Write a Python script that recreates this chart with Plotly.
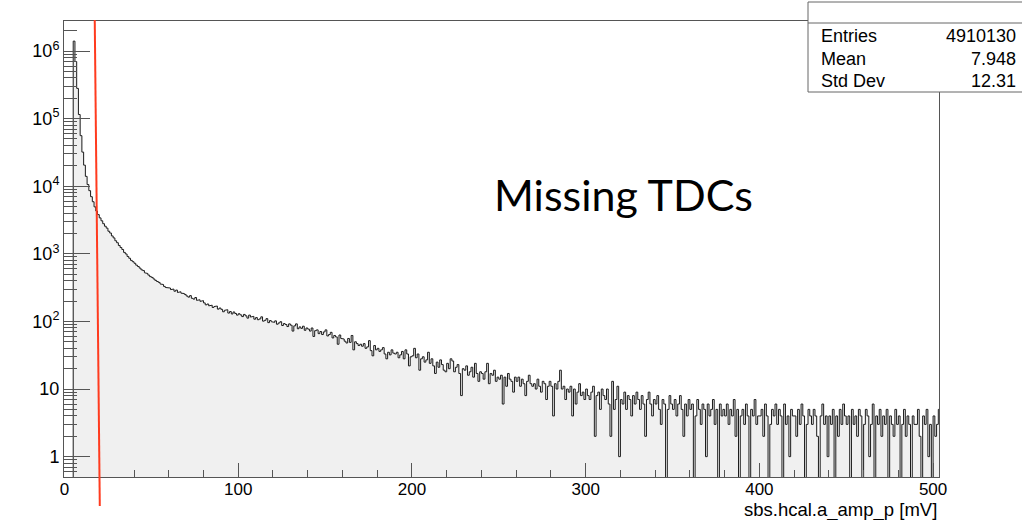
import numpy as np
import plotly.graph_objects as go

# ---------------- data ----------------
bin_width = 1.0
x_start = 0.0
counts = [
    0, 0, 0, 0, 0, 1400000, 700000, 280000, 115000, 56000,
    32000, 20500, 14000, 10600, 8600, 7000, 5900, 4950, 4300, 3800,
    3400, 3080, 2790, 2560, 2400, 2160, 2030, 1840, 1720, 1560,
    1460, 1330, 1240, 1160, 1050, 995, 915, 860, 800, 765,
    725, 680, 650, 615, 580, 565, 525, 512, 485, 460,
    448, 425, 405, 390, 378, 358, 352, 330, 318, 310,
    312, 296, 301, 280, 291, 268, 275, 262, 259, 251,
    238, 229, 241, 220, 214, 226, 205, 209, 198, 203,
    188, 176, 181, 170, 174, 161, 166, 169, 152, 158,
    151, 139, 146, 149, 133, 140, 129, 138, 131, 124,
    130, 125, 118, 127, 121, 112, 124, 116, 119, 108,
    114, 106, 109, 117, 101, 104, 110, 96, 103, 99,
    97, 102, 91, 95, 99, 87, 93, 90, 84, 92,
    88, 72, 86, 92, 78, 83, 79, 85, 74, 80,
    77, 72, 80, 60, 73, 75, 66, 71, 64, 70,
    75, 61, 64, 69, 57, 62, 59, 46, 63, 56,
    55, 51, 48, 56, 49, 62, 38, 50, 47, 44,
    46, 43, 47, 40, 42, 52, 37, 31, 44, 38,
    40, 36, 38, 41, 33, 28, 35, 32, 38, 34,
    33, 35, 29, 32, 36, 28, 38, 33, 22, 30,
    31, 40, 29, 33, 19, 28, 30, 25, 27, 35,
    24, 28, 22, 17, 25, 21, 27, 23, 19, 18,
    24, 20, 28, 26, 18, 21, 23, 17, 8, 20,
    19, 22, 16, 18, 21, 15, 24, 17, 13, 18,
    17, 14, 18, 24, 12, 17, 16, 19, 13, 15,
    14, 16, 6, 15, 11, 17, 14, 13, 9, 15,
    13, 15, 11, 14, 12, 8, 13, 16, 12, 11,
    12, 10, 14, 11, 9, 13, 12, 7, 11, 13,
    11, 4, 12, 10, 13, 19, 10, 11, 7, 10,
    9, 11, 4, 10, 6, 9, 12, 8, 9, 7,
    10, 8, 7, 9, 11, 2, 8, 9, 5, 10,
    8, 7, 10, 6, 2, 13, 5, 7, 11, 1,
    7, 6, 9, 5, 8, 7, 4, 8, 6, 9,
    7, 5, 8, 6, 2, 7, 9, 6, 4, 7,
    6, 8, 5, 3, 7, 6, 0, 5, 8, 6,
    5, 7, 4, 6, 8, 5, 2, 6, 4, 7,
    5, 6, 0, 4, 7, 5, 3, 6, 5, 1,
    6, 4, 5, 7, 3, 5, 0, 6, 4, 5,
    4, 6, 3, 5, 4, 7, 2, 5, 0, 4,
    5, 3, 6, 4, 0, 5, 4, 7, 3, 4,
    4, 5, 2, 6, 4, 0, 3, 5, 4, 6,
    3, 5, 4, 0, 6, 3, 4, 1, 5, 4,
    4, 2, 5, 3, 6, 4, 0, 3, 5, 4,
    3, 5, 4, 2, 0, 4, 6, 3, 4, 1,
    4, 3, 5, 0, 4, 2, 5, 3, 6, 4,
    3, 4, 0, 5, 3, 4, 2, 5, 4, 0,
    3, 5, 4, 1, 3, 6, 0, 4, 3, 5,
    2, 4, 3, 5, 0, 4, 3, 2, 5, 3,
    4, 0, 3, 5, 2, 4, 3, 0, 4, 3,
    3, 5, 2, 0, 4, 3, 5, 1, 3, 0,
    4, 2, 3, 5,
]

x_tick_vals = [0, 100, 200, 300, 400, 500]
x_tick_text = ["0", "100", "200", "300", "400", "500"]
y_tick_vals = [1, 10, 100, 1e3, 1e4, 1e5, 1e6]
y_exponents = [None, None, 2, 3, 4, 5, 6]

x_title = "sbs.hcal.a_amp_p [mV]"
stats_labels = ["Entries", "Mean", "Std Dev"]
stats_values = ["4910130", "7.948", "12.31"]
overlay_text = "Missing TDCs"
cut_x = [17.4, 20.3]   # red cut line (top / bottom in x units)

# ---------------- build step histogram ----------------
vals = np.array(counts, dtype=float)
edges = x_start + bin_width * np.arange(len(vals) + 1)
floor = 1e-3
vplot = np.where(vals > 0, vals, floor)
xs = np.repeat(edges, 2)[1:-1]
ys = np.repeat(vplot, 2)

fig = go.Figure()
fig.add_trace(go.Scatter(
    x=np.concatenate([[edges[0]], xs, [edges[-1]]]),
    y=np.concatenate([[floor], ys, [floor]]),
    fill="toself", fillcolor="#f0f0f0", line=dict(width=0),
    mode="lines", hoverinfo="skip", showlegend=False))
fig.add_trace(go.Scatter(
    x=xs, y=ys, mode="lines",
    line=dict(color="#1a1a1a", width=1),
    showlegend=False))

# ---------------- layout ----------------
W, H = 1022, 520
L, R, T, B = 64, 939, 21, 477


def pxx(p):
    return (p - L) / (R - L)


def pxy(p):
    return (B - p) / (B - T)


font_main = "Liberation Sans, Arial, Helvetica, sans-serif"
minor_y = [m * 10 ** k for k in range(-1, 7) for m in range(2, 10)]
y_tick_text = []
for v, e in zip(y_tick_vals, y_exponents):
    if e is None:
        y_tick_text.append(str(int(v)))
    else:
        y_tick_text.append("10<sup>%d</sup>" % e)

fig.update_layout(
    width=W, height=H,
    margin=dict(l=L, r=W - R, t=T, b=H - B),
    paper_bgcolor="white", plot_bgcolor="white",
    font=dict(family=font_main, size=17, color="black"),
    xaxis=dict(
        range=[-0.3, 503.4], showgrid=False, zeroline=False,
        showline=True, mirror=True, linecolor="#555", linewidth=1,
        ticks="inside", ticklen=14, tickcolor="#555", tickwidth=1,
        tickvals=x_tick_vals, ticktext=x_tick_text,
        ticklabelstandoff=-3,
        minor=dict(ticks="inside", dtick=20, ticklen=7, tickcolor="#555", tickwidth=1, showgrid=False),
        tickfont=dict(size=17),
    ),
    yaxis=dict(
        type="log", range=[np.log10(0.5), 6.444], showgrid=False, zeroline=False,
        showline=True, mirror=True, linecolor="#555", linewidth=1,
        ticks="inside", ticklen=26, tickcolor="#555", tickwidth=1,
        tickvals=y_tick_vals, ticktext=y_tick_text,
        minor=dict(ticks="inside", tickvals=minor_y, ticklen=13, tickcolor="#555", tickwidth=1, showgrid=False),
        tickfont=dict(size=18),
    ),
)

shapes = []
# red cut line
shapes.append(dict(type="line", xref="x", yref="paper",
                   x0=cut_x[1], x1=cut_x[0], y0=pxy(506), y1=pxy(20),
                   line=dict(color="#ff3b1f", width=2)))
# stats box
shapes.append(dict(type="rect", xref="paper", yref="paper",
                   x0=pxx(808), x1=pxx(1040), y0=pxy(92), y1=pxy(2),
                   line=dict(color="#666", width=1), fillcolor="white"))
shapes.append(dict(type="line", xref="paper", yref="paper",
                   x0=pxx(808), x1=pxx(1040), y0=pxy(23), y1=pxy(23),
                   line=dict(color="#666", width=1)))
fig.update_layout(shapes=shapes)

ann = []
for i, (lab, val) in enumerate(zip(stats_labels, stats_values)):
    yc = 36 + i * 22.5
    ann.append(dict(text=lab, xref="paper", yref="paper", x=pxx(819), y=pxy(yc),
                    xanchor="left", yanchor="middle", showarrow=False,
                    font=dict(family=font_main, size=18, color="black")))
    ann.append(dict(text=val, xref="paper", yref="paper", x=pxx(1018), y=pxy(yc),
                    xanchor="right", yanchor="middle", showarrow=False,
                    font=dict(family=font_main, size=18, color="black")))
ann.append(dict(text=x_title, xref="paper", yref="paper", x=pxx(939), y=pxy(509.5),
                xanchor="right", yanchor="middle", showarrow=False,
                font=dict(family=font_main, size=18.5, color="black")))
ann.append(dict(text=overlay_text, xref="paper", yref="paper", x=pxx(623), y=pxy(194),
                xanchor="center", yanchor="middle", showarrow=False,
                font=dict(family="Lato, Open Sans, sans-serif", size=43, color="black")))
fig.update_layout(annotations=ann)

fig.write_html("out.html")
